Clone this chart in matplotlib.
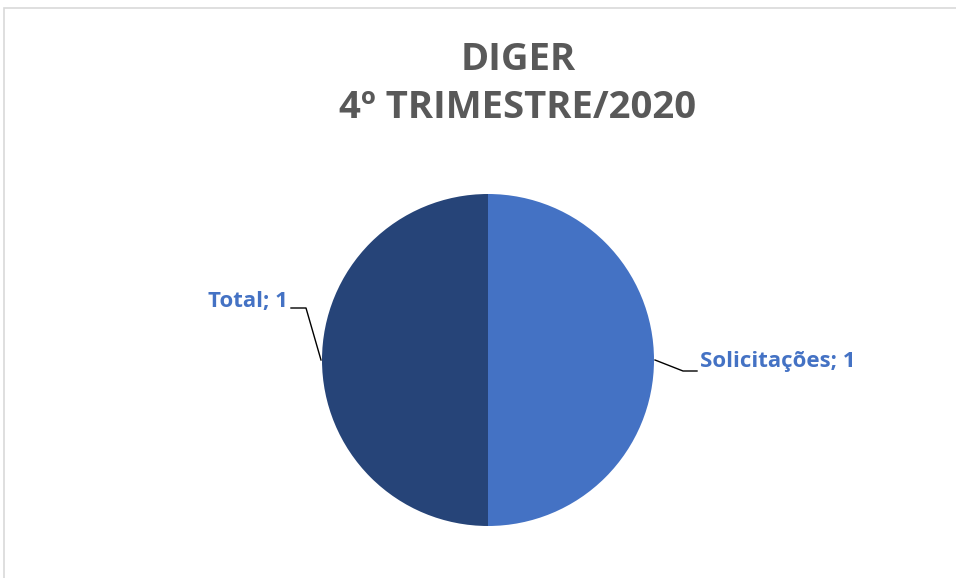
import matplotlib.pyplot as plt
from matplotlib.patches import Rectangle

# data
categories = ["Solicitações", "Total"]
values = [1, 1]
colors = ["#4472C4", "#264478"]
title_lines = ["DIGER", "4º TRIMESTRE/2020"]

W, H = 956, 578
fig = plt.figure(figsize=(W / 100, H / 100), dpi=100)
ax = fig.add_axes([0, 0, 1, 1])

# chart border
ax.add_patch(Rectangle((4, -20), 1000, H - 8 + 20, fill=False, ec="#D9D9D9", lw=1.2))

cx, cy, r = 488, H - 360, 166
wedges, _ = ax.pie(values, colors=colors, startangle=90, counterclock=False,
                   center=(cx, cy), radius=r, frame=True)
ax.set_xlim(0, W)
ax.set_ylim(0, H)
ax.set_aspect("equal")
ax.axis("off")

font = "Open Sans"
ax.text(518, H - 60, title_lines[0], ha="center", va="center", fontsize=27.5,
        fontweight="bold", color="#595959", family=font)
ax.text(518, H - 108, title_lines[1], ha="center", va="center", fontsize=27.5,
        fontweight="bold", color="#595959", family=font)

# data labels with leader lines
lab_sol = f"{categories[0]}; {values[0]}"
lab_tot = f"{categories[1]}; {values[1]}"
ax.plot([655, 683, 697], [H - 360, H - 371, H - 371], color="black", lw=1)
ax.text(700, H - 362, lab_sol, ha="left", va="center", fontsize=16,
        fontweight="bold", color="#4472C4", family=font)
ax.plot([321, 306, 291], [H - 360, H - 308, H - 308], color="black", lw=1)
ax.text(288, H - 301, lab_tot, ha="right", va="center", fontsize=16,
        fontweight="bold", color="#4472C4", family=font)

fig.savefig("out.png", dpi=100, facecolor="white")
